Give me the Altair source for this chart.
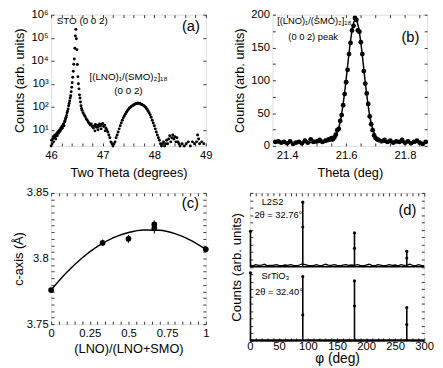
import altair as alt
import pandas as pd

FONT = "Liberation Sans, Arial, sans-serif"

# ---------------- panel (a): 2theta scan, log counts ----------------
a_theta = [46.00, 46.01, 46.02, 46.03, 46.04, 46.05, 46.06, 46.07, 46.08, 46.09,
           46.10, 46.11, 46.12, 46.13, 46.14, 46.15, 46.16, 46.17, 46.18, 46.19,
           46.20, 46.21, 46.22, 46.23, 46.24, 46.25, 46.26, 46.27, 46.28, 46.29,
           46.30, 46.31, 46.32, 46.33, 46.34, 46.35, 46.36, 46.37, 46.38, 46.39,
           46.40, 46.41, 46.42, 46.43, 46.44, 46.45, 46.46, 46.47, 46.48, 46.49,
           46.50, 46.51, 46.52, 46.53, 46.54, 46.55, 46.56, 46.57, 46.58, 46.59,
           46.60, 46.62, 46.64, 46.66, 46.68, 46.70, 46.72, 46.74, 46.76, 46.78,
           46.80, 46.82, 46.84, 46.85, 46.86, 46.88, 46.90, 46.91, 46.92, 46.94,
           46.96, 46.97, 46.98, 47.00, 47.02, 47.04, 47.05, 47.06, 47.08, 47.10,
           47.12, 47.14, 47.16, 47.18, 47.20, 47.22, 47.24, 47.26, 47.28, 47.30,
           47.32, 47.34, 47.36, 47.38, 47.40, 47.42, 47.44, 47.46, 47.48, 47.50,
           47.52, 47.54, 47.56, 47.58, 47.60, 47.62, 47.64, 47.66, 47.68, 47.70,
           47.72, 47.74, 47.76, 47.78, 47.80, 47.82, 47.84, 47.86, 47.88, 47.90,
           47.92, 47.94, 47.96, 47.98, 48.00, 48.02, 48.04, 48.06, 48.08, 48.10,
           48.12, 48.14, 48.16, 48.18, 48.20, 48.22, 48.24, 48.26, 48.28, 48.30,
           48.32, 48.34, 48.36, 48.38, 48.40, 48.42, 48.44, 48.46, 48.48, 48.50,
           48.54, 48.58, 48.62, 48.66, 48.70, 48.74, 48.78, 48.82, 48.84, 48.86,
           48.88, 48.92, 48.96]
a_counts = [2, 3.5, 2.5, 4, 5, 3, 4.5, 6, 5, 4,
            6, 7, 5.5, 8, 7, 9, 8, 10, 9, 12,
            11, 14, 12, 16, 18, 15, 22, 25, 30, 35,
            42, 55, 65, 80, 110, 140, 180, 240, 300, 450,
            700, 1100, 1900, 3500, 7000, 12000, 35000, 120000, 230000, 90000,
            30000, 6800, 2000, 1000, 600, 330, 240, 160, 110, 85,
            70, 55, 45, 38, 30, 26, 22, 19, 16, 18,
            14, 12, 15, 9, 17, 13, 16, 10, 14, 18,
            15, 11, 17, 19, 14, 16, 9, 12, 10, 8,
            6, 4.5, 3, 2.5, 2, 2.5, 3, 4.5, 6, 8,
            11, 15, 20, 26, 33, 40, 48, 58, 68, 78,
            88, 95, 105, 112, 120, 128, 135, 140, 145, 138,
            142, 130, 125, 118, 110, 100, 90, 78, 65, 55,
            45, 35, 26, 20, 15, 11, 8, 6, 4.5, 3.5,
            2.5, 2, 2.5, 3, 2, 2.5, 3.5, 2.5, 4, 5.5,
            3, 4.5, 6, 4, 5, 3, 4.5, 3, 2.5, 2,
            2.5, 2, 2.5, 3, 2, 3, 2.5, 3, 6, 4,
            2.5, 3, 2.5]

# ---------------- panel (b): theta scan, linear counts ----------------
b_theta = [21.36, 21.37, 21.38, 21.39, 21.40, 21.41, 21.42, 21.43, 21.44, 21.45,
           21.46, 21.47, 21.48, 21.49, 21.50, 21.51, 21.52, 21.53, 21.54, 21.55,
           21.555, 21.56, 21.565, 21.57, 21.575, 21.58, 21.585, 21.59, 21.595, 21.60,
           21.605, 21.61, 21.615, 21.62, 21.625, 21.63, 21.635, 21.64, 21.645, 21.65,
           21.655, 21.66, 21.665, 21.67, 21.675, 21.68, 21.685, 21.69, 21.695, 21.70,
           21.705, 21.71, 21.72, 21.73, 21.74, 21.75, 21.76, 21.77, 21.78, 21.79,
           21.80, 21.81, 21.82, 21.83, 21.84, 21.85, 21.86, 21.87]
b_counts = [6, 7, 5, 6, 4, 7, 3, 5, 6, 4,
            8, 5, 10, 6, 7, 9, 6, 8, 10, 12,
            10, 13, 17, 24, 26, 38, 47, 62, 79, 97,
            116, 140, 157, 176, 183, 195, 192, 176, 174, 158,
            140, 114, 95, 80, 64, 45, 33, 24, 16, 12,
            10, 9, 7, 9, 6, 8, 5, 7, 6, 9,
            5, 7, 4, 6, 8, 5, 3, 6]
b_fit_theta = [21.36, 21.45, 21.50, 21.53, 21.552, 21.562, 21.572, 21.577, 21.582, 21.587,
               21.592, 21.597, 21.602, 21.607, 21.612, 21.617, 21.622, 21.627, 21.632, 21.637,
               21.642, 21.647, 21.652, 21.657, 21.662, 21.667, 21.672, 21.677, 21.682, 21.687,
               21.692, 21.702, 21.712, 21.722, 21.75, 21.87]
b_fit_counts = [5, 5, 5.2, 5.9, 7.8, 12.5, 23, 31, 41, 55,
                71, 89, 109, 130, 150, 167, 181, 190, 193, 190,
                181, 167, 150, 130, 109, 89, 71, 55, 41, 31,
                23, 12.5, 7.8, 5.9, 5.1, 5]

# ---------------- panel (c): c-axis vs composition ----------------
c_ratio = [0.0, 0.333, 0.5, 0.667, 0.667, 1.0]
c_axis = [3.776, 3.812, 3.815, 3.823, 3.826, 3.807]
c_yerr = [0.001, 0.0025, 0.003, 0.004, 0.003, 0.001]
c_xerr = [0.0, 0.015, 0.015, 0.01, 0.01, 0.0]
c_fit_ratio = [0.0, 0.1, 0.2, 0.3, 0.4, 0.5, 0.6, 0.7, 0.8, 0.9, 1.0]
c_fit_axis = [3.776, 3.7893, 3.8004, 3.8092, 3.8157, 3.8199, 3.8218, 3.8215, 3.819, 3.8141, 3.807]

# ---------------- panel (d): phi scans ----------------
d_noise_phi = [0, 5, 10, 15, 20, 25, 30, 35, 40, 45,
               50, 55, 60, 65, 70, 75, 80, 85, 90, 95,
               100, 105, 110, 115, 120, 125, 130, 135, 140, 145,
               150, 155, 160, 165, 170, 175, 180, 185, 190, 195,
               200, 205, 210, 215, 220, 225, 230, 235, 240, 245,
               250, 255, 260, 265, 270, 275, 280, 285, 290, 295, 300]
d_noise_top = [0.02, 0.015, 0.03, 0.02, 0.025, 0.035, 0.015, 0.02, 0.02, 0.03,
               0.02, 0.015, 0.025, 0.02, 0.03, 0.02, 0.015, 0.025, 0.04, 0.03,
               0.02, 0.015, 0.02, 0.03, 0.015, 0.02, 0.035, 0.025, 0.02, 0.03,
               0.02, 0.015, 0.025, 0.03, 0.02, 0.025, 0.02, 0.03, 0.02, 0.015,
               0.025, 0.035, 0.02, 0.015, 0.03, 0.025, 0.015, 0.02, 0.03, 0.02,
               0.025, 0.015, 0.03, 0.02, 0.025, 0.035, 0.02, 0.015, 0.03, 0.02, 0.015]
d_base_phi = [0, 50, 100, 150, 200, 250, 300]
d_base_bottom = [0.006, 0.004, 0.006, 0.005, 0.004, 0.006, 0.005]
d_peak_phi = [1, 91, 180, 270]
d_peak_top = [0.48, 0.875, 0.46, 0.21]      # L2S2
d_peak_bottom = [0.92, 0.87, 0.81, 0.45]    # SrTiO3
d_dot_phi = [1, 91, 91, 180, 180, 270, 270]
d_dot_top = [0.48, 0.875, 0.54, 0.46, 0.25, 0.21, 0.12]
d_dot_bottom = [0.92, 0.87, 0.35, 0.81, 0.47, 0.45, 0.22]

# ---------------- helpers ----------------
def ax(values, orient, title=None, label_expr=None, labels=True, lsize=11.5, tsize=13,
       tpad=4, lpad=3):
    kw = dict(values=values, orient=orient, grid=False, domain=False,
              tickSize=3, offset=-3, tickColor="black", tickWidth=0.8,
              labelFont=FONT, labelFontSize=lsize, labelColor="black", labelPadding=lpad,
              labelOverlap=False, labelFlush=False,
              titleFont=FONT, titleFontSize=tsize, titleColor="black",
              titleFontWeight="normal", titlePadding=tpad, title=title)
    if label_expr is not None:
        kw["labelExpr"] = label_expr
    if not labels:
        kw["labels"] = False
    return alt.Axis(**kw)


def txt(df, align="left", size=10, **kw):
    return alt.Chart(df).mark_text(font=FONT, fontSize=size, align=align,
                                    baseline=kw.pop("baseline", "middle"), color="black", **kw)


enc = dict(x=alt.X("x:Q", axis=None), y=alt.Y("y:Q", axis=None), text="t:N")

# ---- panel a ----
dfa = pd.DataFrame({"theta": a_theta, "counts": a_counts})
a_xs = alt.Scale(domain=[46, 49], nice=False, zero=False)
a_ys = alt.Scale(type="log", domain=[2, 1000000], nice=False)
a_xt = [46, 46.2, 46.4, 46.6, 46.8, 47, 47.2, 47.4, 47.6, 47.8, 48, 48.2, 48.4, 48.6, 48.8, 49]
a_yt = [10, 100, 1000, 10000, 100000, 1000000]
sup = "'10' + ['','¹','²','³','⁴','⁵','⁶'][round(log(datum.value)/LN10)]"
a_pts = alt.Chart(dfa).mark_circle(size=9, color="black", opacity=1).encode(
    x=alt.X("theta:Q", scale=a_xs,
            axis=ax(a_xt, "bottom", "Two Theta (degrees)",
                    "datum.value % 1 == 0 ? format(datum.value, 'd') : ''", tpad=6, lpad=4)),
    y=alt.Y("counts:Q", scale=a_ys, axis=ax(a_yt, "left", "Counts (arb. units)", sup)),
)
a_opp = alt.Chart(dfa).mark_point(opacity=0, size=1).encode(
    x=alt.X("theta:Q", axis=ax(a_xt, "top", labels=False)),
    y=alt.Y("counts:Q", axis=ax(a_yt, "right", labels=False)),
)
a_ann = pd.DataFrame({"x": [46.11], "y": [510000], "t": ["STO (0 0 2)"]})
a_ann2 = pd.DataFrame({"x": [47.5, 47.5], "y": [1950, 480],
                       "t": ["[(LNO)₁/(SMO)₂]₁₈", "(0 0 2)"]})
a_lab = pd.DataFrame({"x": [48.71], "y": [320000], "t": ["(a)"]})
panel_a = alt.layer(
    a_pts, a_opp,
    txt(a_ann, "left", 10).encode(**enc),
    txt(a_ann2, "center", 10).encode(**enc),
    txt(a_lab, "center", 15).encode(**enc),
).resolve_axis(x="independent", y="independent").properties(width=158, height=134)

# ---- panel b ----
dfb = pd.DataFrame({"theta": b_theta, "counts": b_counts})
dfb_fit = pd.DataFrame({"theta": b_fit_theta, "counts": b_fit_counts})
b_xs = alt.Scale(domain=[21.35, 21.875], nice=False, zero=False)
b_ys = alt.Scale(domain=[0, 200], nice=False)
b_xt = [21.4, 21.45, 21.5, 21.55, 21.6, 21.65, 21.7, 21.75, 21.8, 21.85]
b_yt = [0, 25, 50, 75, 100, 125, 150, 175, 200]
b_pts = alt.Chart(dfb).mark_circle(size=24, color="black", opacity=1).encode(
    x=alt.X("theta:Q", scale=b_xs,
            axis=ax(b_xt, "bottom", "Theta (deg)",
                    "abs(datum.value*5 - round(datum.value*5)) < 0.001 ? format(datum.value, '.1f') : ''",
                    tpad=6, lpad=4)),
    y=alt.Y("counts:Q", scale=b_ys,
            axis=ax(b_yt, "left", "Counts (arb. units)",
                    "datum.value % 50 == 0 ? format(datum.value, 'd') : ''")),
)
b_line = alt.Chart(dfb_fit).mark_line(color="black", strokeWidth=1.5).encode(
    x=alt.X("theta:Q", axis=None), y=alt.Y("counts:Q", axis=None))
b_opp = alt.Chart(dfb).mark_point(opacity=0, size=1).encode(
    x=alt.X("theta:Q", axis=ax(b_xt, "top", labels=False)),
    y=alt.Y("counts:Q", axis=ax(b_yt, "right", labels=False)),
)
b_ann = pd.DataFrame({"x": [21.366, 21.404], "y": [190, 166],
                      "t": ["[(LNO)₁/(SMO)₂]₁₈", "(0 0 2) peak"]})
b_lab = pd.DataFrame({"x": [21.818], "y": [166], "t": ["(b)"]})
panel_b = alt.layer(
    b_pts, b_line, b_opp,
    txt(b_ann, "left", 9.5).encode(**enc),
    txt(b_lab, "center", 15).encode(**enc),
).resolve_axis(x="independent", y="independent").properties(width=158, height=134)

# ---- panel c ----
dfc = pd.DataFrame({"r": c_ratio, "c": c_axis, "ye": c_yerr, "xe": c_xerr})
dfc_fit = pd.DataFrame({"r": c_fit_ratio, "c": c_fit_axis})
c_xs = alt.Scale(domain=[0, 1], nice=False)
c_ys = alt.Scale(domain=[3.75, 3.85], nice=False, zero=False)
c_xt = [0, 0.05, 0.1, 0.15, 0.2, 0.25, 0.3, 0.35, 0.4, 0.45, 0.5,
        0.55, 0.6, 0.65, 0.7, 0.75, 0.8, 0.85, 0.9, 0.95, 1]
c_yt = [3.75, 3.755, 3.76, 3.765, 3.77, 3.775, 3.78, 3.785, 3.79, 3.795, 3.8,
        3.805, 3.81, 3.815, 3.82, 3.825, 3.83, 3.835, 3.84, 3.845, 3.85]
c_pts = alt.Chart(dfc).mark_circle(size=34, color="black", opacity=1).encode(
    x=alt.X("r:Q", scale=c_xs,
            axis=ax(c_xt, "bottom", "(LNO)/(LNO+SMO)",
                    "abs(datum.value*4 - round(datum.value*4)) < 0.001 ? format(datum.value, '~g') : ''",
                    tpad=3, lpad=4)),
    y=alt.Y("c:Q", scale=c_ys,
            axis=ax(c_yt, "left", "c-axis (Å)",
                    "abs(datum.value*20 - round(datum.value*20)) < 0.001 ? format(datum.value, '~g') : ''", tpad=1)),
)
c_ey = alt.Chart(dfc).transform_calculate(lo="datum.c - datum.ye", hi="datum.c + datum.ye").mark_rule(
    color="black", strokeWidth=1).encode(
    x=alt.X("r:Q", axis=None), y=alt.Y("lo:Q", axis=None), y2="hi:Q")
c_ex = alt.Chart(dfc).transform_calculate(lo="datum.r - datum.xe", hi="datum.r + datum.xe").mark_rule(
    color="black", strokeWidth=1).encode(
    x=alt.X("lo:Q", axis=None), x2="hi:Q", y=alt.Y("c:Q", axis=None))
c_line = alt.Chart(dfc_fit).mark_line(color="black", strokeWidth=1.5, interpolate="monotone").encode(
    x=alt.X("r:Q", axis=None), y=alt.Y("c:Q", axis=None))
c_opp = alt.Chart(dfc).mark_point(opacity=0, size=1).encode(
    x=alt.X("r:Q", axis=ax(c_xt, "top", labels=False)),
    y=alt.Y("c:Q", axis=ax(c_yt, "right", labels=False)),
)
c_lab = pd.DataFrame({"x": [0.9], "y": [3.842], "t": ["(c)"]})
# invisible spacer text above the frame, so that panel (c) sits lower than panel (d)
c_pad = pd.DataFrame({"x": [0.5], "y": [3.85], "t": ["(c)"]})
panel_c = alt.layer(
    c_pts, c_ey, c_ex, c_line, c_opp,
    txt(c_lab, "center", 15).encode(**enc),
    txt(c_pad, "center", 10, baseline="bottom", dy=-14, opacity=0).encode(**enc),
).resolve_axis(x="independent", y="independent").properties(width=158, height=134)

# ---- panel d ----
d_off = {"L2S2": 1.0, "SrTiO3": 0.0}
dfd_peaks = pd.DataFrame({
    "phi": d_peak_phi + d_peak_phi,
    "base": [d_off["L2S2"]] * 4 + [d_off["SrTiO3"]] * 4,
    "h": d_peak_top + d_peak_bottom,
})
dfd_dots = pd.DataFrame({
    "phi": d_dot_phi + d_dot_phi,
    "base": [d_off["L2S2"]] * len(d_dot_phi) + [d_off["SrTiO3"]] * len(d_dot_phi),
    "h": d_dot_top + d_dot_bottom,
})
dfd_noise = pd.DataFrame({"phi": d_noise_phi, "h": d_noise_top, "base": d_off["L2S2"]})
dfd_bnoise = pd.DataFrame({"phi": d_base_phi, "h": d_base_bottom, "base": d_off["SrTiO3"]})
d_xs = alt.Scale(domain=[0, 300], nice=False)
d_ys = alt.Scale(domain=[0, 2], nice=False)
d_xt = list(range(0, 301, 10))
d_yt = [0, 0.1, 0.2, 0.3, 0.4, 0.5, 0.6, 0.7, 0.8, 0.9, 1, 1.1, 1.2, 1.3, 1.4, 1.5,
        1.6, 1.7, 1.8, 1.9, 2]
d_rules = alt.Chart(dfd_peaks).transform_calculate(top="datum.base + datum.h").mark_rule(
    color="black", strokeWidth=1.6).encode(
    x=alt.X("phi:Q", scale=d_xs,
            axis=ax(d_xt, "bottom", "φ (deg)",
                    "datum.value % 50 == 0 ? format(datum.value, 'd') : ''",
                    lsize=11.5, tsize=14, tpad=0, lpad=0)),
    y=alt.Y("base:Q", scale=d_ys, axis=ax(d_yt, "left", "Counts (arb. units)", labels=False, tsize=13.5, tpad=6)),
    y2="top:Q",
)
d_dots = alt.Chart(dfd_dots).transform_calculate(y="datum.base + datum.h").mark_circle(
    size=10, color="black", opacity=1).encode(x=alt.X("phi:Q", axis=None), y=alt.Y("y:Q", axis=None))
d_noise = alt.Chart(dfd_noise).transform_calculate(y="datum.base + datum.h").mark_line(
    color="black", strokeWidth=1.3).encode(x=alt.X("phi:Q", axis=None), y=alt.Y("y:Q", axis=None))
d_bnoise = alt.Chart(dfd_bnoise).transform_calculate(y="datum.base + datum.h").mark_line(
    color="black", strokeWidth=2.5).encode(x=alt.X("phi:Q", axis=None), y=alt.Y("y:Q", axis=None))
d_div = alt.Chart(pd.DataFrame({"y": [d_off["L2S2"]]})).mark_rule(color="black", strokeWidth=1.5).encode(
    y=alt.Y("y:Q", axis=None))
d_opp = alt.Chart(dfd_peaks).mark_point(opacity=0, size=1).encode(
    x=alt.X("phi:Q", axis=ax(d_xt, "top", labels=False)),
    y=alt.Y("base:Q", axis=ax(d_yt, "right", labels=False)),
)
d_ann = pd.DataFrame({"x": [39, 49, 44, 50], "y": [1.87, 1.70, 0.875, 0.66],
                      "t": ["L2S2", "2θ = 32.76°", "SrTiO₃", "2θ = 32.40°"]})
d_lab = pd.DataFrame({"x": [271], "y": [1.77], "t": ["(d)"]})
panel_d = alt.layer(
    d_rules, d_dots, d_noise, d_bnoise, d_div, d_opp,
    txt(d_ann, "center", 9.5).encode(**enc),
    txt(d_lab, "center", 15).encode(**enc),
).resolve_axis(x="independent", y="independent").properties(width=178, height=151)

row1 = alt.hconcat(panel_a, panel_b, spacing=68, bounds="flush")
row2 = alt.hconcat(panel_c, panel_d, spacing=20)
chart = alt.vconcat(row1, row2, spacing=-12).properties(
    padding={"left": 4, "top": -4, "right": 0, "bottom": 0}
).configure_view(stroke="black", strokeWidth=1).configure(background="white")

chart.save("out.html", embed_options={"renderer": "svg", "actions": False})
